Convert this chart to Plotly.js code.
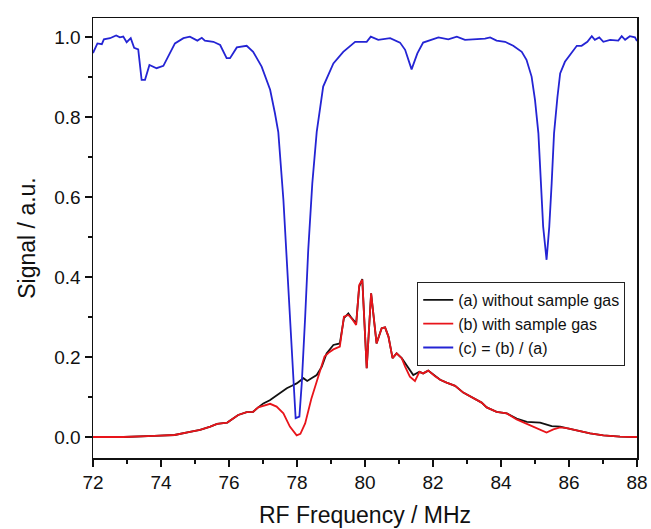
<!DOCTYPE html>
<html>
<head>
<meta charset="utf-8">
<script src="https://cdn.plot.ly/plotly-3.0.1.min.js"></script>
<style>html,body{margin:0;padding:0;background:#fff;}#chart{width:651px;height:529px;}</style>
</head>
<body>
<div id="chart"></div>
<script>
// (a) without sample gas
const xA = [72.0,72.9,73.8,74.4,74.85,75.15,75.45,75.65,75.95,76.13,76.27,76.52,76.71,76.86,77.01,77.2,77.35,77.5,77.7,77.85,77.99,78.19,78.3,78.45,78.58,78.73,78.87,79.07,79.26,79.38,79.51,79.61,79.74,79.83,79.92,80.05,80.18,80.34,80.49,80.59,80.69,80.81,80.93,81.08,81.22,81.42,81.6,81.71,81.86,82.06,82.21,82.4,82.65,82.89,83.19,83.43,83.58,83.87,84.17,84.46,84.76,85.0,85.15,85.49,85.74,85.93,86.23,86.62,87.01,87.5,88.0];
const yA = [0.0,0.0,0.003,0.005,0.013,0.018,0.026,0.033,0.036,0.047,0.055,0.062,0.063,0.074,0.084,0.092,0.101,0.11,0.122,0.128,0.134,0.147,0.14,0.148,0.155,0.176,0.209,0.23,0.234,0.297,0.309,0.297,0.284,0.376,0.395,0.172,0.359,0.234,0.272,0.274,0.251,0.197,0.209,0.197,0.18,0.155,0.163,0.159,0.166,0.152,0.143,0.136,0.128,0.111,0.097,0.086,0.074,0.063,0.059,0.046,0.038,0.037,0.036,0.027,0.026,0.022,0.016,0.009,0.004,0.001,0.0];

// (b) with sample gas
const xB = [72.0,72.9,73.8,74.4,74.85,75.15,75.45,75.65,75.95,76.13,76.27,76.52,76.71,76.86,77.01,77.21,77.4,77.6,77.79,77.99,78.1,78.24,78.42,78.62,78.81,78.95,79.07,79.26,79.38,79.51,79.62,79.74,79.83,79.92,80.05,80.18,80.34,80.49,80.59,80.69,80.81,80.93,81.08,81.18,81.32,81.47,81.6,81.71,81.86,82.06,82.21,82.4,82.65,82.89,83.19,83.43,83.58,83.87,84.17,84.46,84.76,85.0,85.2,85.34,85.54,85.74,85.93,86.23,86.62,87.01,87.5,88.0];
const yB = [0.0,0.0,0.003,0.005,0.013,0.018,0.026,0.033,0.036,0.047,0.055,0.062,0.063,0.074,0.078,0.083,0.076,0.059,0.026,0.004,0.008,0.034,0.095,0.151,0.201,0.212,0.219,0.226,0.301,0.305,0.295,0.28,0.38,0.393,0.172,0.359,0.234,0.272,0.274,0.251,0.197,0.209,0.197,0.176,0.151,0.14,0.163,0.159,0.166,0.152,0.143,0.136,0.128,0.111,0.097,0.086,0.074,0.063,0.059,0.044,0.033,0.024,0.016,0.011,0.019,0.024,0.022,0.016,0.009,0.004,0.001,0.0];

// (c) = (b) / (a)
const xC = [72.0,72.13,72.26,72.32,72.5,72.68,72.79,72.89,72.99,73.11,73.21,73.33,73.43,73.53,73.66,73.87,74.07,74.22,74.41,74.66,74.85,75.07,75.2,75.29,75.54,75.74,75.93,76.03,76.23,76.52,76.71,76.96,77.21,77.35,77.45,77.6,77.71,77.81,77.89,77.96,78.07,78.14,78.24,78.33,78.45,78.58,78.77,79.07,79.36,79.71,80.05,80.17,80.39,80.74,81.03,81.18,81.37,81.54,81.71,81.91,82.16,82.45,82.7,82.94,83.29,83.53,83.68,83.87,84.12,84.36,84.61,84.75,84.9,85.0,85.1,85.17,85.24,85.34,85.42,85.49,85.56,85.66,85.74,85.88,86.03,86.23,86.37,86.54,86.67,86.76,86.89,87.01,87.21,87.45,87.55,87.65,87.79,87.94,88.0];
const yC = [0.96,0.984,0.982,0.994,0.997,1.004,0.999,1.001,0.987,0.997,0.973,0.969,0.893,0.893,0.93,0.922,0.928,0.951,0.984,0.997,1.001,0.991,0.998,0.991,0.988,0.98,0.947,0.947,0.974,0.978,0.963,0.926,0.868,0.81,0.762,0.593,0.426,0.259,0.134,0.047,0.051,0.134,0.3,0.467,0.634,0.763,0.876,0.934,0.963,0.988,0.988,1.001,0.993,0.997,0.986,0.968,0.919,0.959,0.986,0.991,0.999,0.994,1.001,0.993,0.994,0.996,0.999,0.991,0.988,0.978,0.963,0.943,0.901,0.843,0.759,0.634,0.526,0.443,0.526,0.634,0.759,0.85,0.909,0.938,0.955,0.978,0.978,0.988,1.002,0.993,0.999,0.988,0.993,0.991,1.002,0.993,1.002,0.999,0.99];

const names = ['(a) without sample gas', '(b) with sample gas', '(c) = (b) / (a)'];
const colors = ['#111111', '#e8141a', '#2424d4'];

const traces = [
  {x: xA, y: yA, name: names[0], type: 'scatter', mode: 'lines', line: {color: colors[0], width: 1.8}},
  {x: xB, y: yB, name: names[1], type: 'scatter', mode: 'lines', line: {color: colors[1], width: 1.8}},
  {x: xC, y: yC, name: names[2], type: 'scatter', mode: 'lines', line: {color: colors[2], width: 1.8}}
];

const font = 'Liberation Sans, Arial, sans-serif';
const layout = {
  width: 651, height: 529,
  margin: {l: 93, r: 14, t: 18, b: 71},
  paper_bgcolor: '#fff', plot_bgcolor: '#fff',
  showlegend: true,
  legend: {
    x: 0.596, y: 0.40, xanchor: 'left', yanchor: 'top',
    bordercolor: '#222', borderwidth: 1, bgcolor: '#fff',
    font: {family: font, size: 16, color: '#111'},
    tracegroupgap: 0
  },
  xaxis: {
    range: [72, 88], dtick: 2, tick0: 72,
    showgrid: false, zeroline: false,
    showline: true, linecolor: '#111', linewidth: 1.5, mirror: true,
    ticks: 'outside', ticklen: 7, tickwidth: 1.5, tickcolor: '#111',
    minor: {dtick: 1, ticks: 'outside', ticklen: 4, tickwidth: 1.5, tickcolor: '#111'},
    tickfont: {family: font, size: 19, color: '#111'},
    title: {text: 'RF Frequency / MHz', font: {family: font, size: 23, color: '#111'}, standoff: 14}
  },
  yaxis: {
    range: [-0.0525, 1.0475], dtick: 0.2, tick0: 0, tickformat: '.1f',
    showgrid: false, zeroline: false,
    showline: true, linecolor: '#111', linewidth: 1.5, mirror: true,
    ticks: 'outside', ticklen: 7, tickwidth: 1.5, tickcolor: '#111',
    minor: {dtick: 0.1, ticks: 'outside', ticklen: 4, tickwidth: 1.5, tickcolor: '#111'},
    tickfont: {family: font, size: 19, color: '#111'},
    title: {text: 'Signal / a.u.', font: {family: font, size: 23, color: '#111'}, standoff: 12}
  }
};

Plotly.newPlot('chart', traces, layout, {displayModeBar: false, staticPlot: true});
</script>
</body>
</html>
